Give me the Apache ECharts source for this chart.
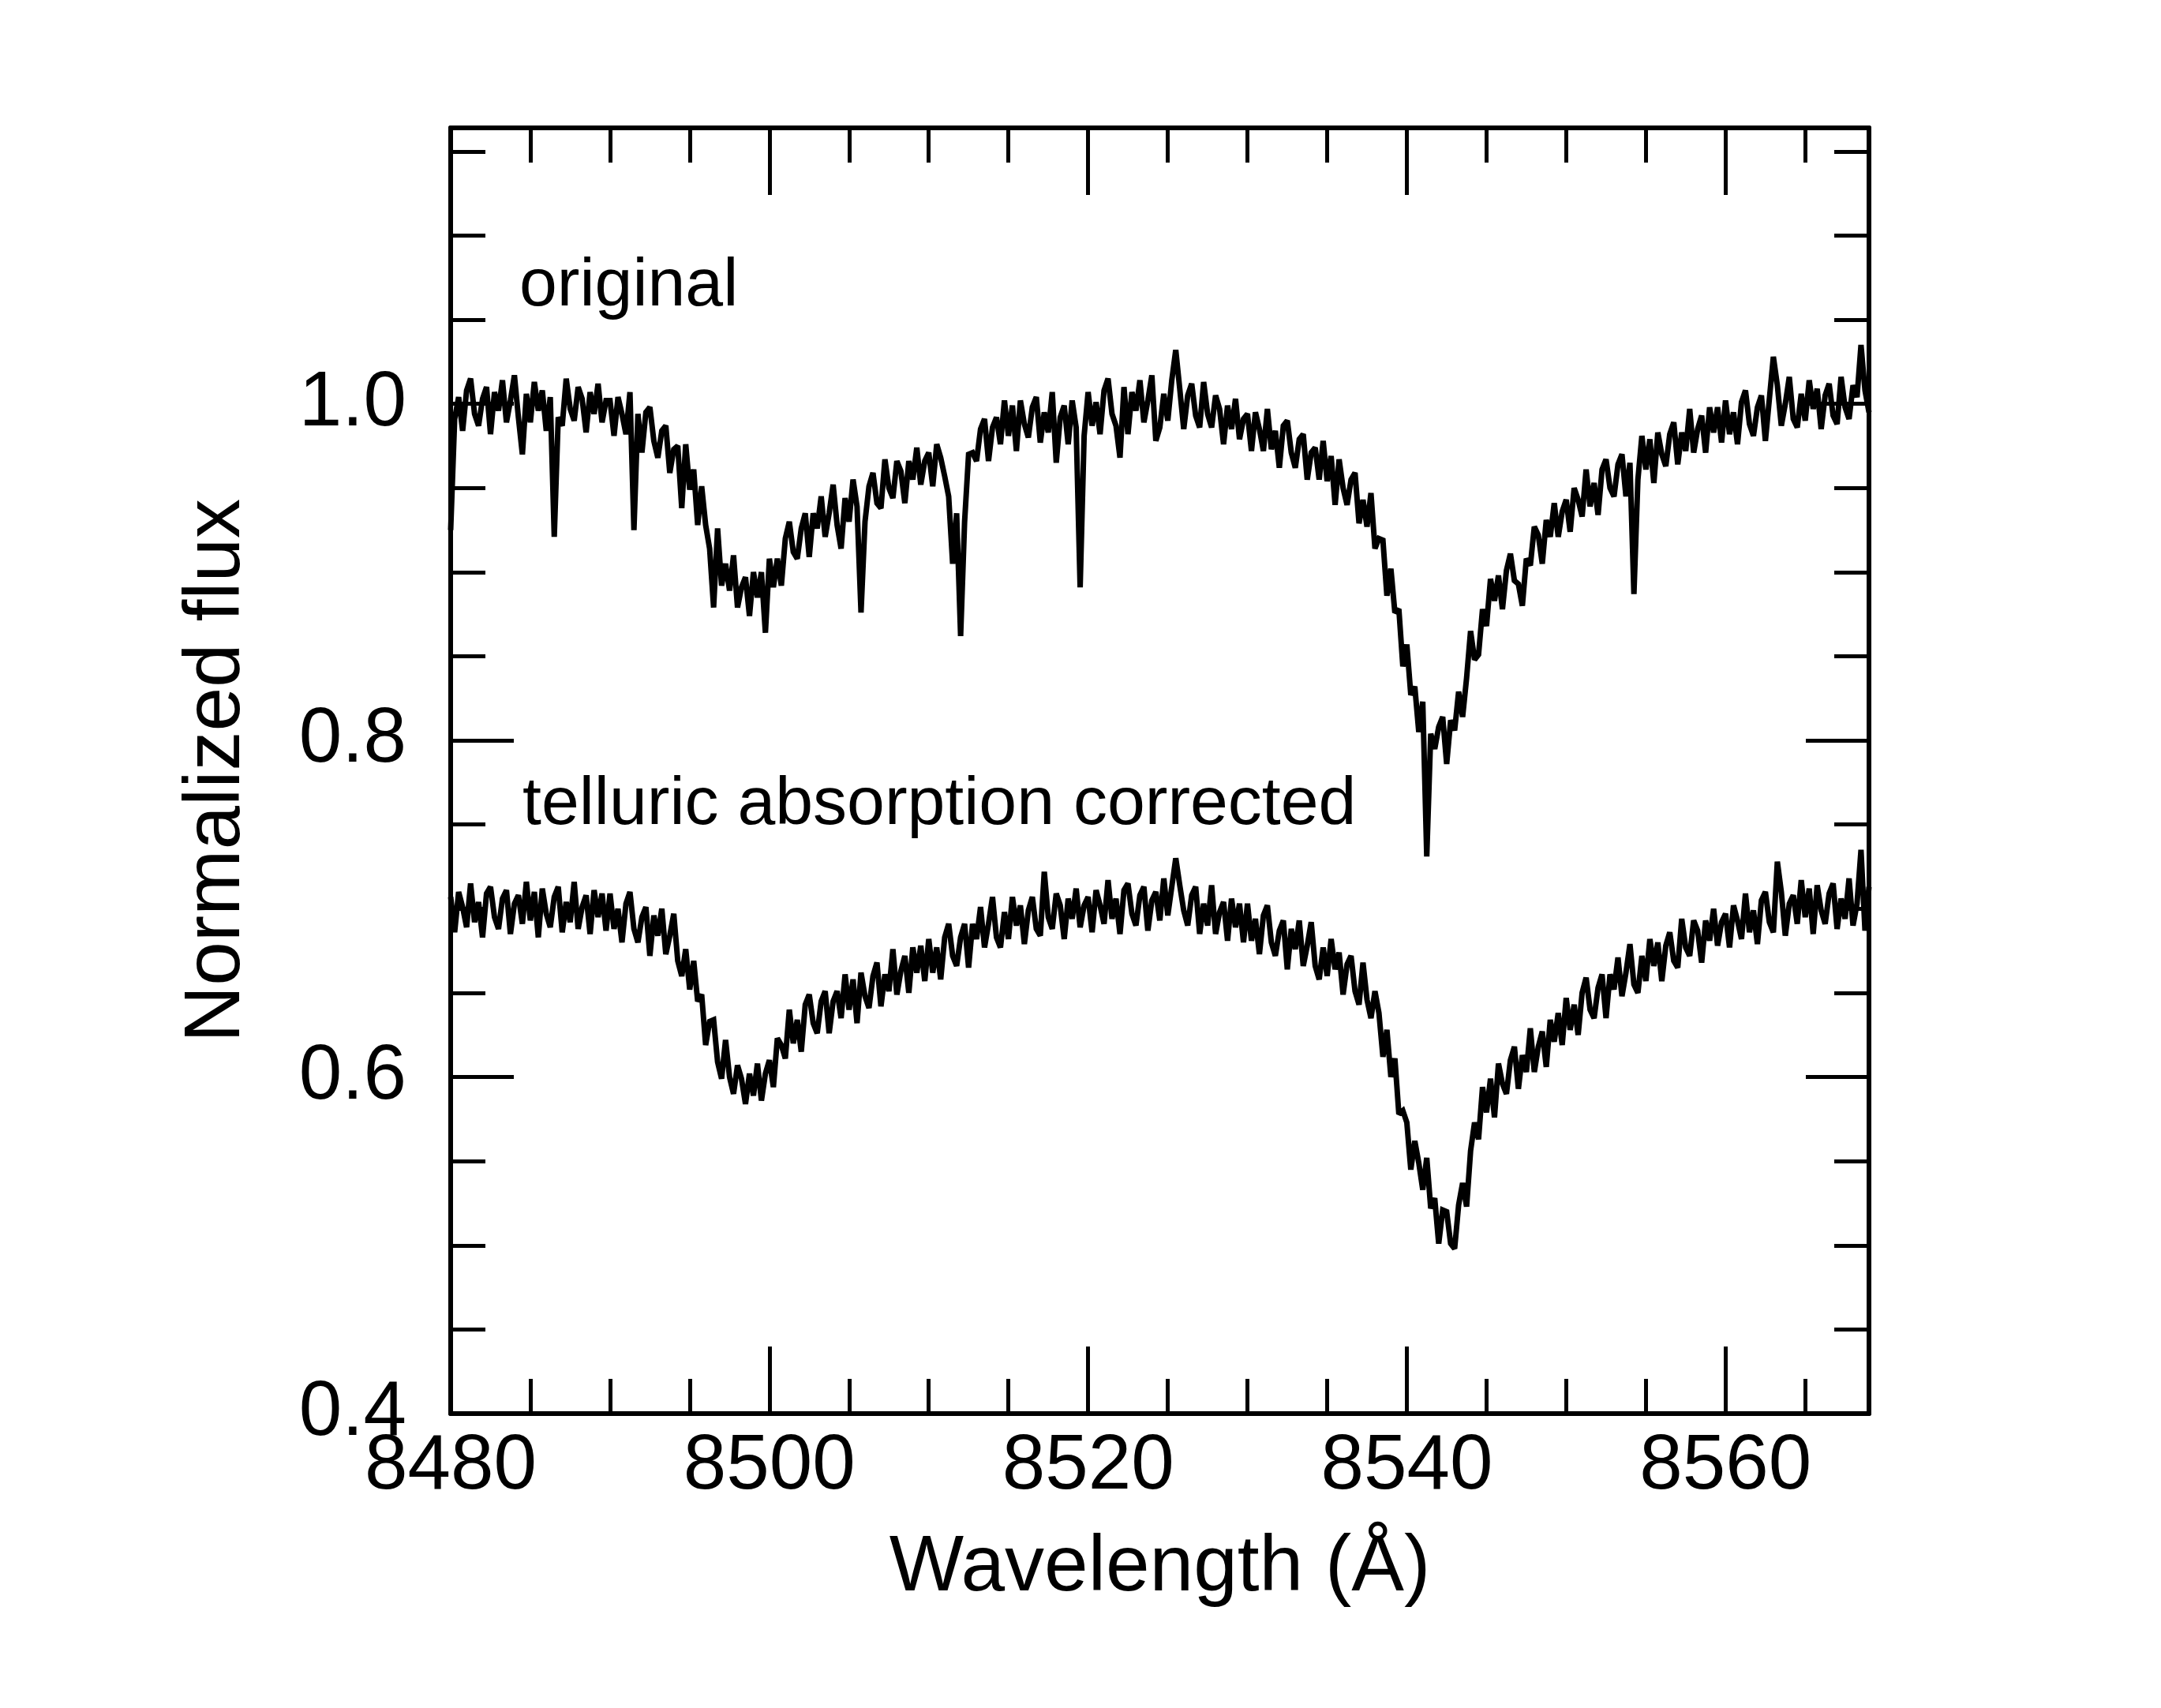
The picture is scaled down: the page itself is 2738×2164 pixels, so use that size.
<!DOCTYPE html>
<html>
<head>
<meta charset="utf-8">
<title>Normalized flux</title>
<script src="https://cdn.jsdelivr.net/npm/echarts@6/dist/echarts.min.js"></script>
<style>
  html, body { margin: 0; padding: 0; background: #fff; }
  #chart { width: 2738px; height: 2164px; }
</style>
</head>
<body>
<div id="chart"></div>
<script>
// spectrum sampled every 0.25 A from 8480 to 8569, one row = 5 A
var waveStart = 8480, waveStep = 0.25;

// upper curve: original spectrum (with telluric lines)
var fluxOriginal = [
  0.925,0.991,1.004,0.984,1.008,1.015,0.994,0.987,1.003,1.010,0.982,1.007,0.996,1.014,0.989,1.002,1.017,0.992,0.970,1.006,
  0.989,1.013,0.996,1.008,0.984,1.004,0.921,0.992,0.987,1.015,0.997,0.990,1.010,1.003,0.983,1.007,0.994,1.012,0.989,1.002,
  1.002,0.981,1.004,0.994,0.982,1.007,0.925,0.994,0.971,0.995,0.998,0.978,0.968,0.984,0.987,0.959,0.973,0.975,0.938,0.976,
  0.949,0.961,0.928,0.951,0.928,0.914,0.879,0.926,0.892,0.905,0.889,0.910,0.879,0.891,0.897,0.874,0.900,0.885,0.900,0.864,
  0.908,0.891,0.908,0.892,0.920,0.930,0.912,0.908,0.926,0.935,0.909,0.935,0.926,0.945,0.921,0.935,0.952,0.928,0.914,0.944,
  0.930,0.955,0.939,0.876,0.930,0.951,0.959,0.941,0.938,0.967,0.950,0.944,0.966,0.960,0.941,0.966,0.955,0.974,0.952,0.966,
  0.971,0.951,0.976,0.968,0.957,0.945,0.905,0.935,0.862,0.930,0.970,0.971,0.966,0.985,0.991,0.966,0.986,0.992,0.976,1.002,
  0.981,0.999,0.972,1.002,0.988,0.980,0.998,1.004,0.977,0.995,0.983,1.007,0.965,0.992,0.999,0.976,1.002,0.986,0.891,0.981,
  1.007,0.987,1.001,0.982,1.008,1.015,0.994,0.987,0.968,1.010,0.982,1.007,0.996,1.014,0.989,1.002,1.017,0.978,0.986,1.006,
  0.990,1.014,1.032,1.009,0.985,1.005,1.012,0.993,0.986,1.013,0.994,0.986,1.005,0.997,0.976,0.999,0.985,1.003,0.979,0.991,
  0.994,0.972,0.995,0.985,0.972,0.997,0.973,0.984,0.962,0.987,0.990,0.971,0.962,0.979,0.982,0.955,0.971,0.974,0.955,0.978,
  0.954,0.969,0.940,0.967,0.950,0.940,0.955,0.959,0.929,0.943,0.927,0.947,0.914,0.920,0.919,0.886,0.902,0.876,0.878,0.844,
  0.857,0.827,0.832,0.805,0.823,0.731,0.804,0.795,0.808,0.814,0.786,0.812,0.806,0.829,0.814,0.837,0.865,0.848,0.851,0.878,
  0.868,0.896,0.883,0.898,0.878,0.901,0.911,0.895,0.893,0.880,0.908,0.904,0.927,0.922,0.905,0.931,0.921,0.941,0.921,0.936,
  0.943,0.924,0.950,0.943,0.933,0.961,0.939,0.953,0.934,0.961,0.967,0.950,0.945,0.964,0.970,0.945,0.965,0.887,0.955,0.981,
  0.961,0.979,0.953,0.983,0.970,0.963,0.982,0.989,0.964,0.983,0.972,0.997,0.971,0.985,0.993,0.971,0.998,0.983,0.998,0.977,
  1.002,0.982,0.995,0.976,1.001,1.008,0.988,0.981,0.998,1.005,0.978,1.003,1.028,1.011,0.987,1.000,1.016,0.991,0.986,1.006,
  0.990,1.014,0.997,1.009,0.985,1.005,1.012,0.993,0.988,1.016,0.998,0.991,1.011,1.004,1.035,1.008,0.995
];

// lower curve: telluric absorption corrected
var fluxCorrected = [
  0.707,0.686,0.710,0.701,0.689,0.715,0.692,0.704,0.683,0.709,0.713,0.695,0.688,0.706,0.711,0.685,0.703,0.708,0.691,0.716,
  0.693,0.710,0.683,0.712,0.697,0.689,0.707,0.713,0.686,0.704,0.692,0.716,0.688,0.701,0.708,0.685,0.711,0.695,0.709,0.687,
  0.709,0.688,0.700,0.680,0.703,0.710,0.688,0.680,0.695,0.701,0.672,0.696,0.684,0.700,0.673,0.684,0.697,0.669,0.660,0.676,
  0.652,0.669,0.645,0.649,0.619,0.633,0.634,0.609,0.599,0.622,0.600,0.590,0.607,0.599,0.584,0.602,0.589,0.608,0.586,0.602,
  0.610,0.594,0.623,0.619,0.611,0.640,0.620,0.634,0.615,0.643,0.649,0.632,0.626,0.645,0.651,0.626,0.645,0.651,0.635,0.661,
  0.640,0.658,0.632,0.662,0.648,0.641,0.660,0.668,0.642,0.661,0.651,0.676,0.649,0.663,0.672,0.650,0.677,0.662,0.678,0.657,
  0.682,0.662,0.677,0.658,0.683,0.691,0.672,0.666,0.683,0.691,0.665,0.691,0.682,0.701,0.677,0.691,0.707,0.683,0.677,0.698,
  0.682,0.707,0.690,0.702,0.679,0.699,0.707,0.688,0.684,0.722,0.695,0.688,0.709,0.702,0.682,0.706,0.694,0.712,0.689,0.702,
  0.707,0.686,0.711,0.702,0.691,0.717,0.694,0.706,0.685,0.711,0.715,0.697,0.690,0.708,0.713,0.687,0.705,0.710,0.693,0.718,
  0.696,0.713,0.730,0.714,0.699,0.690,0.708,0.713,0.685,0.703,0.690,0.714,0.685,0.698,0.704,0.681,0.706,0.689,0.703,0.680,
  0.703,0.681,0.694,0.673,0.696,0.702,0.680,0.672,0.687,0.693,0.664,0.688,0.676,0.693,0.666,0.678,0.692,0.666,0.658,0.677,
  0.660,0.682,0.664,0.674,0.649,0.667,0.672,0.651,0.643,0.668,0.646,0.635,0.651,0.638,0.612,0.628,0.600,0.611,0.578,0.580,
  0.573,0.545,0.562,0.549,0.533,0.552,0.522,0.528,0.501,0.521,0.520,0.501,0.498,0.524,0.537,0.523,0.556,0.573,0.563,0.594,
  0.579,0.599,0.576,0.608,0.596,0.590,0.610,0.618,0.593,0.613,0.603,0.629,0.603,0.618,0.627,0.606,0.634,0.621,0.638,0.619,
  0.647,0.628,0.643,0.625,0.650,0.659,0.640,0.635,0.653,0.661,0.635,0.661,0.652,0.671,0.648,0.662,0.679,0.655,0.650,0.672,
  0.657,0.682,0.666,0.680,0.657,0.678,0.686,0.669,0.665,0.694,0.677,0.672,0.693,0.687,0.668,0.693,0.681,0.700,0.678,0.692,
  0.697,0.677,0.702,0.693,0.682,0.709,0.686,0.699,0.679,0.705,0.710,0.692,0.686,0.728,0.710,0.684,0.703,0.708,0.691,0.717,
  0.695,0.712,0.685,0.714,0.699,0.691,0.709,0.715,0.688,0.706,0.694,0.718,0.690,0.703,0.735,0.687,0.713
];

var xRange = [8480, 8569];
var yRange = [0.4, 1.164];
var labels = ['original', 'telluric absorption corrected'];

var FONT = '"Liberation Sans", Arial, Helvetica, sans-serif';

function pairs(flux) {
  var out = [];
  for (var i = 0; i < flux.length; i++) {
    out.push([waveStart + i * waveStep, flux[i]]);
  }
  return out;
}

// minor axis draws the frame line and short ticks, major axis the long ticks
function xAx(pos, interval, len, withLine, withLabel) {
  return {
    type: 'value', position: pos, min: xRange[0], max: xRange[1], interval: interval,
    axisLine: { show: withLine, lineStyle: { color: '#000', width: 6 } },
    axisTick: { show: true, inside: true, length: len, lineStyle: { color: '#000', width: 5 } },
    axisLabel: {
      show: withLabel, color: '#000', fontSize: 98, fontFamily: FONT, margin: 19,
      formatter: function (v) { return v % 20 === 0 ? String(v) : ''; }
    },
    splitLine: { show: false }
  };
}
function yAx(pos, interval, len, withLine, withLabel) {
  return {
    type: 'value', position: pos, min: yRange[0], max: yRange[1], interval: interval,
    axisLine: { show: withLine, lineStyle: { color: '#000', width: 6 } },
    axisTick: { show: true, inside: true, length: len, lineStyle: { color: '#000', width: 5 } },
    axisLabel: {
      show: withLabel, color: '#000', fontSize: 98, fontFamily: FONT, margin: 56,
      formatter: function (v) { return Math.abs(v * 5 - Math.round(v * 5)) < 1e-6 ? v.toFixed(1) : ''; }
    },
    splitLine: { show: false }
  };
}

var xBottomMajor = xAx('bottom', 20, 85, false, true);
xBottomMajor.name = 'Wavelength (Å)';
xBottomMajor.nameLocation = 'middle';
xBottomMajor.nameGap = 146;
xBottomMajor.nameTextStyle = { color: '#000', fontSize: 100, fontFamily: FONT };

var yLeftMajor = yAx('left', 0.2, 80, false, true);
yLeftMajor.name = 'Normalized flux';
yLeftMajor.nameLocation = 'middle';
yLeftMajor.nameGap = 246;
yLeftMajor.nameTextStyle = { color: '#000', fontSize: 100, fontFamily: FONT };

var chart = echarts.init(document.getElementById('chart'));
chart.setOption({
  backgroundColor: '#fff',
  animation: false,
  grid: { left: 571, right: 370, top: 162, bottom: 373, containLabel: false },
  xAxis: [
    xAx('bottom', 5, 44, true, false),
    xBottomMajor,
    xAx('top', 5, 44, true, false),
    xAx('top', 20, 85, false, false)
  ],
  yAxis: [
    yAx('left', 0.05, 44, true, false),
    yLeftMajor,
    yAx('right', 0.05, 44, true, false),
    yAx('right', 0.2, 80, false, false)
  ],
  graphic: [
    { type: 'text', left: 658, top: 320, silent: true,
      style: { text: labels[0], fill: '#000', font: '86px ' + FONT } },
    { type: 'text', left: 662, top: 977, silent: true,
      style: { text: labels[1], fill: '#000', font: '86px ' + FONT } }
  ],
  series: [
    {
      name: labels[0], type: 'line', xAxisIndex: 0, yAxisIndex: 0,
      data: pairs(fluxOriginal), symbol: 'none', silent: true, clip: true,
      lineStyle: { color: '#000', width: 7, join: 'miter', miterLimit: 2 }
    },
    {
      name: labels[1], type: 'line', xAxisIndex: 0, yAxisIndex: 0,
      data: pairs(fluxCorrected), symbol: 'none', silent: true, clip: true,
      lineStyle: { color: '#000', width: 7, join: 'miter', miterLimit: 2 }
    }
  ]
});
</script>
</body>
</html>
